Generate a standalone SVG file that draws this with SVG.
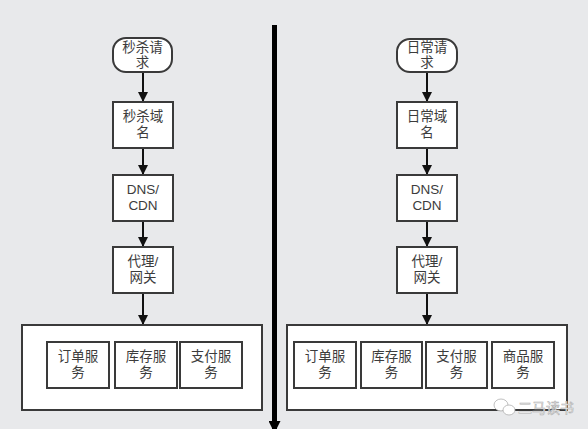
<svg xmlns="http://www.w3.org/2000/svg" width="588" height="429" viewBox="0 0 588 429">
<defs>
<style>
.bg{fill:#e8e9eb}
.box{fill:#ffffff;stroke:#3a3a3a;stroke-width:2}
.t{font-family:"Liberation Sans","Noto Sans CJK SC",sans-serif;font-size:13.5px;fill:#3c3c3c;text-anchor:middle}
.conn{stroke:#111111;stroke-width:2;fill:none}
.axis{stroke:#000000;stroke-width:5;fill:none}
.wm{font-family:"Noto Sans CJK SC",sans-serif;font-size:14px;fill:#ffffff;stroke:#b0b0b0;stroke-width:0.6}
</style>
<marker id="ah" markerWidth="10" markerHeight="12" refX="10" refY="5" orient="auto" markerUnits="userSpaceOnUse" viewBox="0 0 10 10">
<path d="M0,0 L10,5 L0,10 Z" fill="#111111"/>
</marker>
<marker id="ahBig" markerWidth="12" markerHeight="12" refX="10" refY="5" orient="auto" markerUnits="userSpaceOnUse" viewBox="0 0 10 10">
<path d="M0,0 L10,5 L0,10 Z" fill="#000000"/>
</marker>
</defs>
<rect class="bg" x="0" y="0" width="588" height="429"/>

<g id="connectors">
<line class="conn" x1="143" y1="72" x2="143" y2="102" marker-end="url(#ah)"/>
<line class="conn" x1="143" y1="148" x2="143" y2="175" marker-end="url(#ah)"/>
<line class="conn" x1="143" y1="221" x2="143" y2="247" marker-end="url(#ah)"/>
<line class="conn" x1="143" y1="293" x2="143" y2="325" marker-end="url(#ah)"/>
<line class="conn" x1="427" y1="72" x2="427" y2="102" marker-end="url(#ah)"/>
<line class="conn" x1="427" y1="148" x2="427" y2="175" marker-end="url(#ah)"/>
<line class="conn" x1="427" y1="221" x2="427" y2="247" marker-end="url(#ah)"/>
<line class="conn" x1="427" y1="293" x2="427" y2="325" marker-end="url(#ah)"/>
<line class="axis" x1="274.5" y1="25" x2="274.5" y2="433" marker-end="url(#ahBig)"/>
</g>

<g id="seckill-request">
<rect class="box" x="113" y="38" width="59" height="34" rx="13"/>
<text class="t" x="142.5" y="52">秒杀请</text>
<text class="t" x="142.5" y="67">求</text>
</g>
<g id="seckill-domain">
<rect class="box" x="113" y="102" width="60" height="46"/>
<text class="t" x="143" y="121">秒杀域</text>
<text class="t" x="143" y="137">名</text>
</g>
<g id="left-dns">
<rect class="box" x="113" y="175" width="60" height="46"/>
<text class="t" x="143" y="194">DNS/</text>
<text class="t" x="143" y="210">CDN</text>
</g>
<g id="left-proxy">
<rect class="box" x="113" y="247" width="60" height="46"/>
<text class="t" x="143" y="266">代理/</text>
<text class="t" x="143" y="282">网关</text>
</g>
<g id="left-services">
<rect class="box" x="22" y="325" width="240" height="85"/>
<g id="left-order">
<rect class="box" x="47" y="342" width="62" height="46"/>
<text class="t" x="78" y="361">订单服</text>
<text class="t" x="78" y="377">务</text>
</g>
<g id="left-stock">
<rect class="box" x="115" y="342" width="62" height="46"/>
<text class="t" x="146" y="361">库存服</text>
<text class="t" x="146" y="377">务</text>
</g>
<g id="left-pay">
<rect class="box" x="180" y="342" width="62" height="46"/>
<text class="t" x="211" y="361">支付服</text>
<text class="t" x="211" y="377">务</text>
</g>
</g>

<g id="normal-request">
<rect class="box" x="397" y="39" width="60" height="33" rx="13"/>
<text class="t" x="427" y="52">日常请</text>
<text class="t" x="427" y="67">求</text>
</g>
<g id="normal-domain">
<rect class="box" x="397" y="102" width="60" height="46"/>
<text class="t" x="427" y="121">日常域</text>
<text class="t" x="427" y="137">名</text>
</g>
<g id="right-dns">
<rect class="box" x="397" y="175" width="60" height="46"/>
<text class="t" x="427" y="194">DNS/</text>
<text class="t" x="427" y="210">CDN</text>
</g>
<g id="right-proxy">
<rect class="box" x="397" y="247" width="60" height="46"/>
<text class="t" x="427" y="266">代理/</text>
<text class="t" x="427" y="282">网关</text>
</g>
<g id="right-services">
<rect class="box" x="287" y="325" width="280" height="85"/>
<g id="right-order">
<rect class="box" x="294" y="342" width="62" height="46"/>
<text class="t" x="325" y="361">订单服</text>
<text class="t" x="325" y="377">务</text>
</g>
<g id="right-stock">
<rect class="box" x="361" y="342" width="61" height="46"/>
<text class="t" x="391.5" y="361">库存服</text>
<text class="t" x="391.5" y="377">务</text>
</g>
<g id="right-pay">
<rect class="box" x="426" y="342" width="61" height="46"/>
<text class="t" x="456.5" y="361">支付服</text>
<text class="t" x="456.5" y="377">务</text>
</g>
<g id="right-goods">
<rect class="box" x="492" y="342" width="62" height="46"/>
<text class="t" x="523" y="361">商品服</text>
<text class="t" x="523" y="377">务</text>
</g>
</g>

<g id="watermark">
<ellipse cx="501" cy="405" rx="7" ry="6" fill="#ffffff" stroke="#b0b0b0" stroke-width="0.8"/>
<ellipse cx="509" cy="410" rx="6" ry="5" fill="#ffffff" stroke="#b0b0b0" stroke-width="0.8"/>
<text class="wm" x="518" y="413">二马读书</text>
</g>
</svg>
